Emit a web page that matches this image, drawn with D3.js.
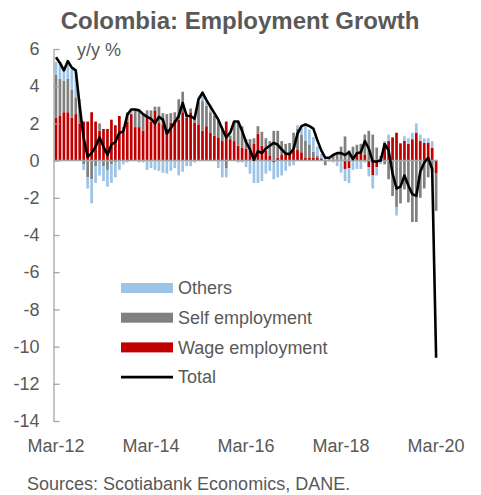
<!DOCTYPE html>
<html>
<head>
<meta charset="utf-8">
<script src="https://cdn.jsdelivr.net/npm/d3@7"></script>
<style>
  html, body { margin: 0; padding: 0; background: #fff; }
  svg { display: block; font-family: "Liberation Sans", Arial, sans-serif; }
</style>
</head>
<body>
<svg id="chart" width="481" height="495"></svg>
<script>
// ---- data ----
const startMonth = new Date(2012, 2, 1);   // Mar-12
const endMonth = new Date(2020, 3, 1);     // exclusive (after Mar-20)
const fmt = d3.timeFormat("%b-%y");
const months = d3.timeMonth.range(startMonth, endMonth).map(fmt);
const xTickLabels = ["Mar-12", "Mar-14", "Mar-16", "Mar-18", "Mar-20"];
const yTicks = [6, 4, 2, 0, -2, -4, -6, -8, -10, -12, -14];

const wage = [
  2.3, 2.4, 2.6, 2.6, 2.3, 2.5, 2.0, 2.1, 2.1, 2.6,
  2.1, 1.6, 1.7, 1.7, 2.2, 1.9, 2.4, 1.5, 2.1, 2.5,
  1.8, 1.8, 1.6, 2.3, 2.1, 2.7, 2.05, 1.95, 1.7, 2.05,
  2.2, 2.2, 2.6, 2.3, 2.6, 2.05, 1.95, 1.6, 1.85, 1.5,
  1.35, 1.25, 1.05, 2.1, 1.15, 1.05, 0.8, 0.7, 0.65, 0.55,
  0.9, 1.45, 0.8, 0.55, 0.25, -0.1, 0.15, 0.3, 0.35, 0.35,
  0.55, 0.6, 0.45, 0.17, 0.17, 0.17, 0.15, 0.1, 0.0, 0.05,
  0.05, 0.05, 0.05, -0.45, -0.4, 0.05, 0.35, 0.45, 0.3, -0.35,
  -0.8, -0.35, 0.1, 0.95, 1.05, 1.25, 1.5, 0.93, 1.06, 0.9,
  1.15, 1.5, 1.05, 0.95, 0.95, 0.7, -0.7
];
const self = [
  2.3, 2.0, 1.7, 1.8, 1.5, 0.9, 1.0, -0.2, -0.9, -1.0,
  -0.3, 0.4, -0.3, -0.5, -0.2, -0.1, 0.0, 0.3, 0.5, 0.0,
  0.9, 0.9, 0.9, 0.4, 0.6, 0.2, 0.85, 0.6, 0.8, 0.5,
  0.4, 1.1, 1.1, 0.2, 0.2, 0.2, 1.2, 1.6, 1.1, 1.1,
  1.05, 0.9, 0.7, -0.4, 0.2, 1.0, 1.35, 1.15, 0.5, 0.6,
  0.3, 0.4, 0.75, 0.65, 0.8, 1.6, 1.45, 0.75, 0.55, 0.6,
  0.95, 1.1, 0.95, 0.9, 0.7, 0.3, 0.1, 0.05, -0.25, 0.1,
  0.3, 0.3, 0.7, 1.3, 0.55, 0.7, 0.5, 0.45, 1.1, 1.6,
  1.4, 0.7, 0.15, -0.2, -1.0, -1.9, -2.5, -2.3, -1.55, -2.25,
  -3.3, -3.3, -2.0, -1.5, -0.9, -0.6, -2.0
];
const others = [
  0.7, 0.8, 0.6, 0.8, 1.1, 1.4, 0.3, -0.3, -0.6, -1.3,
  -0.9, -0.8, -0.8, -0.9, -1.0, -0.8, -0.5, -0.2, -0.1, 0.3,
  0.0, -0.1, -0.1, -0.5, -0.4, -0.5, -0.55, -0.65, -0.7, -0.55,
  -0.4, -0.8, -0.6, -0.3, -0.3, -0.1, 0.0, 0.4, 0.2, 0.4,
  0.1, -0.4, -0.9, -0.5, 0.0, 0.0, -0.1, -0.1, -0.35, -0.7,
  -1.2, -1.2, -1.1, -0.7, -0.55, -0.9, -0.9, -0.8, -0.55, -0.3,
  -0.25, 0.2, 0.45, 0.8, 0.8, 0.8, 0.5, 0.2, 0.1, -0.05,
  -0.1, -0.3, -0.65, -0.65, -0.8, -0.5, -0.45, -0.45, -0.1, -0.5,
  -0.7, -0.45, -0.2, 0.1, 0.35, 0.0, -0.45, 0.0, 0.25, 0.3,
  0.35, 0.5, 0.35, 0.25, 0.25, 0.35, 0.0
];
const total = [
  5.55, 5.25, 4.85, 5.35, 5.0, 4.85, 2.9, 1.2, 0.2, 0.4,
  0.75, 1.25, 0.75, 0.3, 0.85, 1.0, 1.5, 1.55, 2.45, 2.75,
  2.75, 2.7, 2.5, 2.35, 2.25, 2.0, 2.35, 2.2, 1.45, 1.75,
  2.05, 2.4, 3.1, 2.4, 2.4, 2.25, 3.3, 3.65, 3.25, 2.9,
  2.55, 2.2, 1.7, 1.25, 1.5, 2.1, 2.1, 1.6, 1.0, 0.6,
  0.05, 0.5, 0.4, 0.65, 0.8, 0.95, 0.85, 0.6, 0.38, 0.35,
  0.62, 1.45, 1.85, 1.95, 1.85, 1.72, 1.1, 0.55, 0.15, 0.15,
  0.3, 0.4, 0.4, 0.3, 0.45, 0.08, 0.4, 0.45, 1.05, 0.65,
  -0.05, -0.05, 0.0, 0.89, 0.55, -0.7, -1.5, -1.4, -0.8, -1.35,
  -1.8, -1.9, -0.6, -0.1, 0.15, -0.45, -10.6
];

const seriesKeys = ["wage", "self", "others"];
const seriesColors = { wage: "#c00000", self: "#808080", others: "#9dc3e6" };
const legendItems = [
  { label: "Others", key: "others", type: "rect" },
  { label: "Self employment", key: "self", type: "rect" },
  { label: "Wage employment", key: "wage", type: "rect" },
  { label: "Total", key: "total", type: "line" }
];

// ---- build table ----
const table = months.map((m, i) => ({ month: m, wage: wage[i], self: self[i], others: others[i], total: total[i] }));

const svg = d3.select("#chart");
const textColor = "#595959";
const axisColor = "#a6a6a6";

const x = d3.scaleBand().domain(months).range([54, 438.1]).paddingInner(0.32).paddingOuter(0.16);
const y = d3.scaleLinear().domain([-14, 6]).range([421, 49]);

// title
svg.append("text")
  .attr("x", 240).attr("y", 29)
  .attr("text-anchor", "middle")
  .attr("font-size", 24).attr("font-weight", "bold")
  .attr("fill", textColor)
  .text("Colombia: Employment Growth");

// y label
svg.append("text")
  .attr("x", 77).attr("y", 56)
  .attr("font-size", 18).attr("fill", textColor)
  .text("y/y %");

// stacked bars
const stack = d3.stack().keys(seriesKeys).offset(d3.stackOffsetDiverging);
const stacked = stack(table);

svg.append("g").selectAll("g")
  .data(stacked)
  .join("g")
  .attr("fill", d => seriesColors[d.key])
  .selectAll("rect")
  .data(d => d)
  .join("rect")
  .attr("x", d => x(d.data.month))
  .attr("width", x.bandwidth())
  .attr("y", d => y(Math.max(d[0], d[1])))
  .attr("height", d => Math.abs(y(d[0]) - y(d[1])));

// zero line
svg.append("line")
  .attr("x1", 54).attr("x2", 438)
  .attr("y1", y(0)).attr("y2", y(0))
  .attr("stroke", axisColor).attr("stroke-width", 1.5);

// y axis
const yAxis = svg.append("g")
  .attr("transform", "translate(53.5,0)")
  .call(d3.axisLeft(y).tickValues(yTicks).tickFormat(d3.format("d")).tickSizeInner(-6).tickSizeOuter(0).tickPadding(14));
yAxis.select(".domain").attr("stroke", axisColor).attr("stroke-width", 1.3);
yAxis.selectAll(".tick line").attr("stroke", axisColor).attr("stroke-width", 1.3);
yAxis.selectAll(".tick text").attr("fill", textColor).attr("font-size", 18)
  .attr("font-family", "Liberation Sans, Arial, sans-serif")
  .text(d => d < 0 ? "-" + Math.abs(d) : d);

// x axis labels
const xAxis = svg.append("g")
  .attr("transform", `translate(0,${y(-14)})`)
  .call(d3.axisBottom(x).tickValues(xTickLabels).tickSize(0).tickPadding(18));
xAxis.select(".domain").remove();
xAxis.selectAll(".tick text").attr("fill", textColor).attr("font-size", 18)
  .attr("font-family", "Liberation Sans, Arial, sans-serif");

// total line
const line = d3.line()
  .x(d => x(d.month) + x.bandwidth() / 2)
  .y(d => y(d.total));
svg.append("path")
  .datum(table)
  .attr("fill", "none")
  .attr("stroke", "#000")
  .attr("stroke-width", 2.6)
  .attr("stroke-linejoin", "round")
  .attr("d", line);

// legend
const legend = svg.append("g").attr("transform", "translate(121,288)");
const rowH = 29.7;
legendItems.forEach((it, i) => {
  const g = legend.append("g").attr("transform", `translate(0,${i * rowH})`);
  if (it.type === "rect") {
    g.append("rect").attr("x", 0).attr("y", -5).attr("width", 52).attr("height", 10)
      .attr("fill", seriesColors[it.key]);
  } else {
    g.append("line").attr("x1", 0).attr("x2", 52).attr("y1", 0).attr("y2", 0)
      .attr("stroke", "#000").attr("stroke-width", 2.6);
  }
  g.append("text").attr("x", 57).attr("y", 0).attr("dy", "0.35em")
    .attr("font-size", 18).attr("fill", textColor).text(it.label);
});

// source
svg.append("text")
  .attr("x", 27).attr("y", 490)
  .attr("font-size", 18).attr("fill", textColor)
  .text("Sources: Scotiabank Economics, DANE.");
</script>
</body>
</html>
